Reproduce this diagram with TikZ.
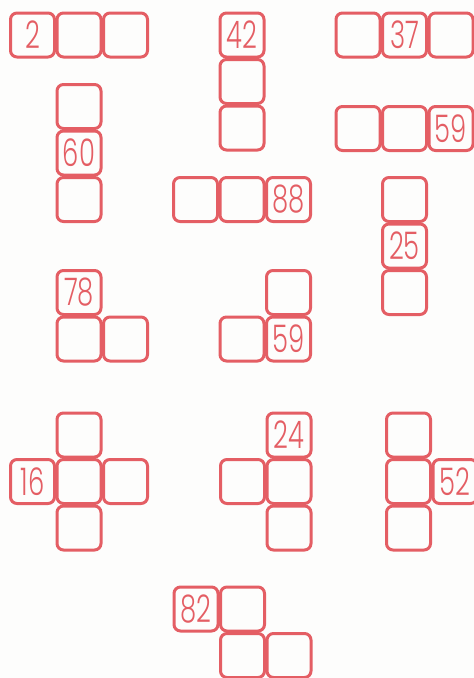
\documentclass[tikz,border=0pt]{standalone}
\usepackage{fontspec}
\usepackage{graphicx}
\newfontfamily\numf{Poppins Light}
\definecolor{boxred}{RGB}{228,94,100}
\definecolor{paper}{RGB}{253,253,252}
\tikzset{
  cell/.style={draw=boxred, line width=3pt, rounded corners=6.5pt,
    minimum size=44pt, inner sep=0pt, text=boxred,
    font=\numf\fontsize{38}{38}\selectfont},
}
\newcommand{\nm}[1]{\scalebox{0.68}[1]{#1}}
\begin{document}
\begin{tikzpicture}[x=1pt,y=-1pt]
\fill[paper] (0,0) rectangle (474,678);
\useasboundingbox (0,0) rectangle (474,678);
% group 2
\node[cell] (A1) at (32.5,35) {\nm{2}};
\node[cell] (A2) at (79,35) {};
\node[cell] (A3) at (125.5,35) {};
% group 42
\node[cell] (B1) at (242,35) {\nm{42}};
\node[cell] (B2) at (242,81.5) {};
\node[cell] (B3) at (242,128) {};
% group 37
\node[cell] (C1) at (358,35) {};
\node[cell] (C2) at (404.5,35) {\nm{37}};
\node[cell] (C3) at (451,35) {};
% group 59
\node[cell] (D1) at (358,128.5) {};
\node[cell] (D2) at (404.5,128.5) {};
\node[cell] (D3) at (451,128.5) {\nm{59}};
% group 60
\node[cell] (E1) at (79,106.5) {};
\node[cell] (E2) at (79,153) {\nm{60}};
\node[cell] (E3) at (79,199.5) {};
% group 88
\node[cell] (F1) at (195.5,199.5) {};
\node[cell] (F2) at (242,199.5) {};
\node[cell] (F3) at (288.5,199.5) {\nm{88}};
% group 25
\node[cell] (G1) at (404.5,199.5) {};
\node[cell] (G2) at (404.5,246) {\nm{25}};
\node[cell] (G3) at (404.5,292.5) {};
% group 78
\node[cell] (H1) at (79,292.5) {\nm{78}};
\node[cell] (H2) at (79,339) {};
\node[cell] (H3) at (125.5,339) {};
% group 59 (L)
\node[cell] (I1) at (288.5,292.5) {};
\node[cell] (I2) at (242,339) {};
\node[cell] (I3) at (288.5,339) {\nm{59}};
% group 16
\node[cell] (J1) at (79,435) {};
\node[cell] (J2) at (32.5,481.5) {\nm{16}};
\node[cell] (J3) at (79,481.5) {};
\node[cell] (J4) at (125.5,481.5) {};
\node[cell] (J5) at (79,528) {};
% group 24
\node[cell] (K1) at (289,435) {\nm{24}};
\node[cell] (K2) at (242.5,481.5) {};
\node[cell] (K3) at (289,481.5) {};
\node[cell] (K4) at (289,528) {};
% group 52
\node[cell] (L1) at (408.5,435) {};
\node[cell] (L2) at (408.5,481.5) {};
\node[cell] (L3) at (455,481.5) {\nm{52}};
\node[cell] (L4) at (408.5,528) {};
% group 82
\node[cell] (M1) at (196,609) {\nm{82}};
\node[cell] (M2) at (242.5,609) {};
\node[cell] (M3) at (242.5,655.5) {};
\node[cell] (M4) at (289,655.5) {};
\end{tikzpicture}
\end{document}
